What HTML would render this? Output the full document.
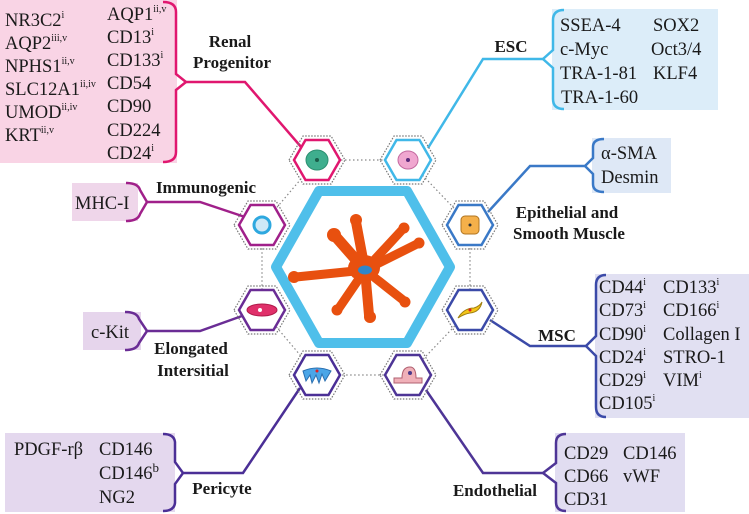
<!DOCTYPE html>
<html><head><meta charset="utf-8"><style>
html,body{margin:0;padding:0;background:#fff;}
svg{display:block;font-family:"Liberation Serif",serif;}
text{font-family:"Liberation Serif",serif;fill:#1a1a1a;}
.t{font-size:18.5px;}
.b{font-weight:bold;font-size:17px;}
.s{font-size:10px;}
</style></head><body>
<svg width="749" height="514" viewBox="0 0 749 514" xmlns="http://www.w3.org/2000/svg" font-family="Liberation Serif, serif">
<rect x="0" y="0" width="177" height="163" fill="#f9d4e5"/>
<path d="M163,2 Q176,2 176,12 L176,74 L186,82 L176,90 L176,152 Q176,162 163,162" fill="none" stroke="#e0176f" stroke-width="2.5"/>
<rect x="72" y="183" width="66" height="38" fill="#efd6ea"/>
<path d="M126,183 Q138,183 140,190 L147,202 L140,214 Q138,221 126,221" fill="none" stroke="#a0208a" stroke-width="2.5"/>
<rect x="83" y="312" width="58" height="38" fill="#e6d5ec"/>
<path d="M125,312 Q137,312 139,319 L147,331 L139,343 Q137,350 125,350" fill="none" stroke="#6a2d95" stroke-width="2.5"/>
<rect x="5" y="433" width="170" height="79" fill="#e4d8ee"/>
<path d="M163,434 Q174,434 175,442 L175,462 L183,473 L175,484 L175,503 Q174,511 163,511" fill="none" stroke="#4b2f96" stroke-width="2.5"/>
<rect x="552" y="9" width="166" height="101" fill="#dcedf9"/>
<path d="M564,10 Q553,10 553,20 L553,50 L543,59 L553,68 L553,99 Q553,109 564,109" fill="none" stroke="#40b8e8" stroke-width="2.5"/>
<rect x="592" y="138" width="79" height="55" fill="#dee8f6"/>
<path d="M604,139 Q593,139 593,147 L593,158 L585,166 L593,174 L593,184 Q593,192 604,192" fill="none" stroke="#3a79c7" stroke-width="2.5"/>
<rect x="595" y="274" width="154" height="144" fill="#e1e0f2"/>
<path d="M606,275 Q596,275 596,285 L596,336 L586,346 L596,356 L596,407 Q596,417 606,417" fill="none" stroke="#3b4aa8" stroke-width="2.5"/>
<rect x="555" y="433" width="130" height="79" fill="#e1ddf1"/>
<path d="M566,434 Q556,434 556,443 L556,463 L543,473 L556,483 L556,502 Q556,511 566,511" fill="none" stroke="#4e3596" stroke-width="2.5"/>

<g fill="none" stroke-width="2.5">
<polyline points="186,82 245,82 302,148" stroke="#e0176f"/>
<polyline points="147,202 200,202 245,217" stroke="#a0208a"/>
<polyline points="147,331 200,331 242,316" stroke="#6a2d95"/>
<polyline points="183,473 243,473 300,388" stroke="#4b2f96"/>
<polyline points="543,59 483,59 428,148" stroke="#40b8e8"/>
<polyline points="585,166 530,166 488,212" stroke="#3a79c7"/>
<polyline points="586,346 530,346 490,320" stroke="#3b4aa8"/>
<polyline points="543,473 483,473 426,390" stroke="#4e3596"/>
</g>

<polygon points="317,160 408,160 470,225 470,310 408,375 317,375 262,310 262,225" fill="none" stroke="#888" stroke-width="1.2" stroke-dasharray="1.5,2.5"/>

<polygon points="276,267 319,191 407,191 450,267 407,343 319,343" fill="#fff" stroke="#4fbfea" stroke-width="10" stroke-linejoin="round"/>
<g fill="#e8500f" stroke="#e8500f" stroke-linecap="round">
<path d="M365,270 L296,277" stroke-width="9"/>
<path d="M365,270 L356,222" stroke-width="10"/>
<path d="M365,270 L402,230" stroke-width="9"/>
<path d="M365,270 L417,244" stroke-width="9"/>
<path d="M365,270 L403,300" stroke-width="9"/>
<path d="M365,270 L369,315" stroke-width="10"/>
<path d="M365,270 L339,308" stroke-width="9"/>
<path d="M365,270 L336,237" stroke-width="11"/>
<circle cx="294" cy="277" r="6" stroke="none"/>
<circle cx="356" cy="220" r="6" stroke="none"/>
<circle cx="404" cy="228" r="5.5" stroke="none"/>
<circle cx="419" cy="243" r="5.5" stroke="none"/>
<circle cx="405" cy="302" r="5.5" stroke="none"/>
<circle cx="370" cy="317" r="6" stroke="none"/>
<circle cx="337" cy="310" r="5.5" stroke="none"/>
<circle cx="334" cy="235" r="7" stroke="none"/>
<ellipse cx="364" cy="268" rx="16" ry="13" stroke="none"/>
</g>
<ellipse cx="365" cy="270" rx="7" ry="4.5" fill="#2f86c9"/>

<defs>
<polygon id="hx" points="-23,0 -11.5,-20 11.5,-20 23,0 11.5,20 -11.5,20"/>
<polygon id="ho" points="-28,0 -14,-24 14,-24 28,0 14,24 -14,24"/>
</defs>
<g fill="#fff" stroke-width="2.5">
<g transform="translate(317,160)"><use href="#ho" fill="none" stroke="#777" stroke-width="1.2" stroke-dasharray="1.5,1.5"/><use href="#hx" stroke="#e0176f"/><ellipse rx="11" ry="10" fill="#3fae8e" stroke="#2b8f70" stroke-width="1"/><circle r="2" fill="#1a5d4a" stroke="none"/></g>
<g transform="translate(408,160)"><use href="#ho" fill="none" stroke="#777" stroke-width="1.2" stroke-dasharray="1.5,1.5"/><use href="#hx" stroke="#40b8e8"/><ellipse rx="10" ry="9" fill="#f0a7d0" stroke="#c46aa0" stroke-width="1"/><circle r="2" fill="#5a2a7a" stroke="none"/></g>
<g transform="translate(262,225)"><use href="#ho" fill="none" stroke="#777" stroke-width="1.2" stroke-dasharray="1.5,1.5"/><use href="#hx" stroke="#a0208a"/><circle r="8" fill="#cfe9f7" stroke="#2ea8df" stroke-width="3"/></g>
<g transform="translate(470,225)"><use href="#ho" fill="none" stroke="#777" stroke-width="1.2" stroke-dasharray="1.5,1.5"/><use href="#hx" stroke="#3a79c7"/><rect x="-9" y="-9" width="18" height="18" rx="4" fill="#f5b04a" stroke="#b07520" stroke-width="1"/><circle r="1.5" fill="#333" stroke="none"/></g>
<g transform="translate(262,310)"><use href="#ho" fill="none" stroke="#777" stroke-width="1.2" stroke-dasharray="1.5,1.5"/><use href="#hx" stroke="#6a2d95"/><ellipse rx="15" ry="6" fill="#e0306a" stroke="#b01a4a" stroke-width="1"/><circle cx="-2" r="2" fill="#fff" stroke="none"/></g>
<g transform="translate(470,310)"><use href="#ho" fill="none" stroke="#777" stroke-width="1.2" stroke-dasharray="1.5,1.5"/><use href="#hx" stroke="#3b4aa8"/><path d="M-12,8 Q-6,-2 4,-2 Q10,-4 12,-8 Q10,2 0,3 Q-6,4 -12,8Z" fill="#f5c518" stroke="#a08010" stroke-width="1"/><circle cx="0" cy="0" r="1.5" fill="#e02020" stroke="none"/></g>
<g transform="translate(317,375)"><use href="#ho" fill="none" stroke="#777" stroke-width="1.2" stroke-dasharray="1.5,1.5"/><use href="#hx" stroke="#4b2f96"/><path d="M-14,-4 Q0,-10 14,-4 L8,6 L5,-1 L2,8 L-1,0 L-5,8 L-7,0 L-11,6Z" fill="#4aa6e8" stroke="#2a6fb0" stroke-width="1"/><circle cx="0" cy="-4" r="1.5" fill="#e02020" stroke="none"/></g>
<g transform="translate(408,375)"><use href="#ho" fill="none" stroke="#777" stroke-width="1.2" stroke-dasharray="1.5,1.5"/><use href="#hx" stroke="#4e3596"/><path d="M-14,8 L-14,3 L-6,3 Q-6,-8 2,-8 Q8,-8 8,3 L14,3 L14,8Z" fill="#f0b0b8" stroke="#b06070" stroke-width="1"/><circle cx="2" cy="-2" r="2" fill="#4a3a8a" stroke="none"/></g>
</g>

<text class="b" x="230" y="47" text-anchor="middle">Renal</text>
<text class="b" x="232" y="68" text-anchor="middle">Progenitor</text>
<text class="b" x="206" y="193" text-anchor="middle">Immunogenic</text>
<text class="b" x="191" y="354" text-anchor="middle">Elongated</text>
<text class="b" x="193" y="376" text-anchor="middle">Intersitial</text>
<text class="b" x="222" y="494" text-anchor="middle">Pericyte</text>
<text class="b" x="511" y="52" text-anchor="middle">ESC</text>
<text class="b" x="567" y="218" text-anchor="middle">Epithelial and</text>
<text class="b" x="569" y="239" text-anchor="middle">Smooth Muscle</text>
<text class="b" x="557" y="341" text-anchor="middle">MSC</text>
<text class="b" x="495" y="496" text-anchor="middle">Endothelial</text>

<g class="t">
<text x="5" y="26">NR3C2<tspan class="s" dy="-8">i</tspan></text>
<text x="5" y="49">AQP2<tspan class="s" dy="-8">iii,v</tspan></text>
<text x="5" y="72">NPHS1<tspan class="s" dy="-8">ii,v</tspan></text>
<text x="5" y="95">SLC12A1<tspan class="s" dy="-8">ii,iv</tspan></text>
<text x="5" y="118">UMOD<tspan class="s" dy="-8">ii,iv</tspan></text>
<text x="5" y="141">KRT<tspan class="s" dy="-8">ii,v</tspan></text>
<text x="107" y="20">AQP1<tspan class="s" dy="-8">ii,v</tspan></text>
<text x="107" y="43">CD13<tspan class="s" dy="-8">i</tspan></text>
<text x="107" y="66">CD133<tspan class="s" dy="-8">i</tspan></text>
<text x="107" y="89">CD54</text>
<text x="107" y="112">CD90</text>
<text x="107" y="136">CD224</text>
<text x="107" y="159">CD24<tspan class="s" dy="-8">i</tspan></text>

<text x="75" y="209">MHC-I</text>
<text x="91" y="338">c-Kit</text>

<text x="14" y="455">PDGF-rβ</text>
<text x="99" y="455">CD146</text>
<text x="99" y="479">CD146<tspan font-size="13" dy="-7">b</tspan></text>
<text x="99" y="503">NG2</text>

<text x="560" y="31">SSEA-4</text>
<text x="653" y="31">SOX2</text>
<text x="560" y="55">c-Myc</text>
<text x="651" y="55">Oct3/4</text>
<text x="560" y="79">TRA-1-81</text>
<text x="653" y="79">KLF4</text>
<text x="561" y="103">TRA-1-60</text>

<text x="601" y="159">α-SMA</text>
<text x="601" y="183">Desmin</text>

<text x="599" y="293">CD44<tspan class="s" dy="-8">i</tspan></text>
<text x="663" y="293">CD133<tspan class="s" dy="-8">i</tspan></text>
<text x="599" y="316">CD73<tspan class="s" dy="-8">i</tspan></text>
<text x="663" y="316">CD166<tspan class="s" dy="-8">i</tspan></text>
<text x="599" y="340">CD90<tspan class="s" dy="-8">i</tspan></text>
<text x="663" y="340">Collagen I</text>
<text x="599" y="363">CD24<tspan class="s" dy="-8">i</tspan></text>
<text x="663" y="363">STRO-1</text>
<text x="599" y="386">CD29<tspan class="s" dy="-8">i</tspan></text>
<text x="663" y="386">VIM<tspan class="s" dy="-8">i</tspan></text>
<text x="599" y="409">CD105<tspan class="s" dy="-8">i</tspan></text>

<text x="564" y="459">CD29</text>
<text x="623" y="459">CD146</text>
<text x="564" y="482">CD66</text>
<text x="623" y="482">vWF</text>
<text x="564" y="505">CD31</text>
</g>
</svg>
</body></html>
